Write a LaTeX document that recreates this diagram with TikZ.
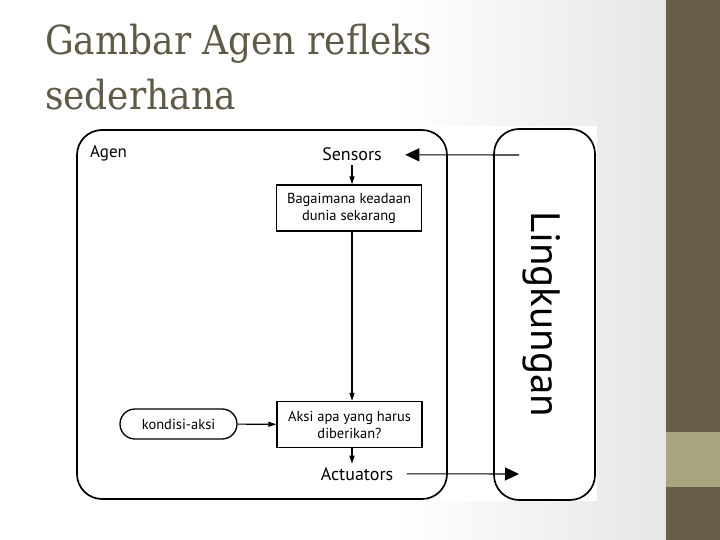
\documentclass[tikz,border=0pt]{standalone}
\usepackage{fontspec}
\setmainfont{PT Sans}
\newfontfamily\titlefont{DejaVu Serif Condensed}
\usetikzlibrary{arrows.meta,positioning}
\definecolor{stripe}{HTML}{675F4B}
\definecolor{stripelight}{HTML}{A9A67F}
\definecolor{titlecol}{HTML}{5F5A48}
\definecolor{bggrey}{HTML}{E6E6E6}
\pgfdeclarehorizontalshading{slideshade}{100bp}{color(0bp)=(white); color(25bp)=(white); color(55bp)=(white); color(75bp)=(bggrey); color(100bp)=(bggrey)}

\begin{document}
\begin{tikzpicture}[x=1pt,y=-1pt,
  bigbox/.style={draw, line width=1.7pt, rounded corners=25pt},
  procbox/.style={draw, line width=1.3pt, minimum width=145pt, minimum height=46pt,
    align=center, inner sep=2pt, font=\fontsize{14.5}{17}\selectfont},
  rulebox/.style={draw, line width=1.3pt, rounded corners=15pt, minimum width=117pt,
    minimum height=30pt, inner sep=2pt, font=\fontsize{14.5}{17}\selectfont},
  iolabel/.style={font=\fontsize{18}{21}\selectfont, anchor=base},
  flow/.style={line width=1.1pt, -{Triangle[length=8pt,width=5pt]}},
  envflow/.style={line width=1.1pt, -{Triangle[length=14pt,width=13pt]}}]
  \useasboundingbox (0,0) rectangle (720,540);
  % slide background and side stripe
  \shade[shading=slideshade] (0,0) rectangle (666,540);
  \fill[stripe] (666,0) rectangle (720,540);
  \fill[stripelight] (666,432) rectangle (720,487);
  \fill[white] (62,126) rectangle (597,501);
  % title
  \node[anchor=base west, inner sep=0pt, text=titlecol, font=\titlefont\fontsize{40}{48}\selectfont] (title1) at (45,55) {Gambar Agen refleks};
  \node[anchor=base west, inner sep=0pt, text=titlecol, font=\titlefont\fontsize{40}{48}\selectfont] (title2) at (45,110) {sederhana};
  % agent and environment
  \node[bigbox, minimum width=370pt, minimum height=369pt] (agen) at (262,314.5) {};
  \node[anchor=base west, font=\fontsize{17}{20}\selectfont, inner sep=0pt] (agenlabel) at (90,158) {Agen};
  \node[bigbox, minimum width=101pt, minimum height=371pt] (lingkungan) at (544.5,314.5) {};
  \node[rotate=-90, anchor=base, inner sep=0pt, font=\fontsize{41}{44}\selectfont] (lingkunganlabel) at (531,314) {Lingkungan};
  \coordinate (envin) at (519,155);
  \coordinate (envout) at (519,474);
  % inside the agent
  \node[iolabel] (sensors) at (352,161) {Sensors};
  \node[procbox] (keadaan) at (349,208) {Bagaimana keadaan\\dunia sekarang};
  \node[procbox] (aksi) at (349.5,424.5) {Aksi apa yang harus\\diberikan?};
  \node[rulebox] (kondisi) at (178.5,424) {kondisi-aksi};
  \node[iolabel] (actuators) at (357,480) {Actuators};
  \draw[flow] (sensors.south) -- (sensors.south |- keadaan.north);
  \draw[flow] (keadaan.south -| sensors) -- (aksi.north -| sensors);
  \draw[flow] (aksi.south -| sensors) -- (actuators.north -| sensors);
  \draw[flow] (kondisi) -- (aksi);
  \draw[envflow, shorten >=20pt] (envin) -- (sensors);
  \draw[envflow, shorten <=10pt] (actuators) -- (envout);
\end{tikzpicture}
\end{document}
